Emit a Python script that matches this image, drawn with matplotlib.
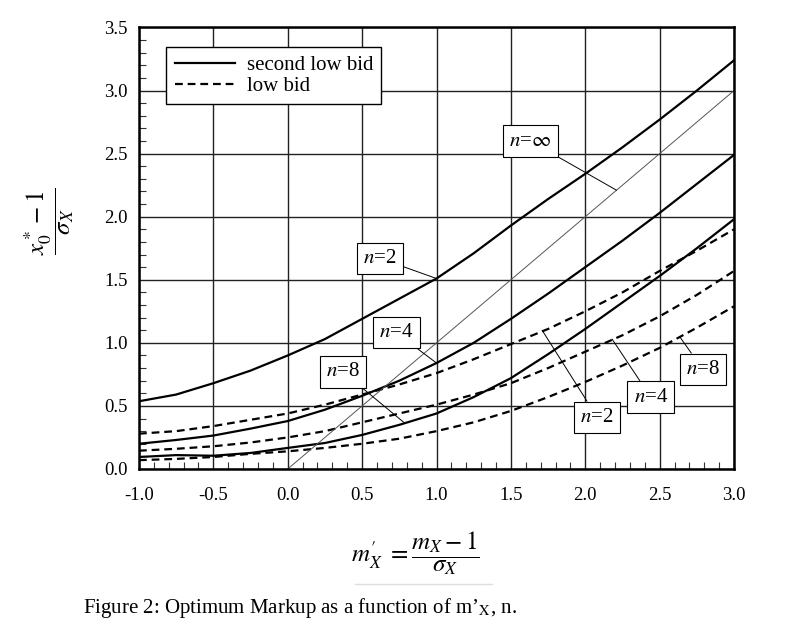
import numpy as np
import matplotlib
matplotlib.use("Agg")
import matplotlib.pyplot as plt
from matplotlib.lines import Line2D
from matplotlib.ticker import MultipleLocator, FormatStrFormatter

# valores (paso 0.25)
x_vals = [-1.0, -0.75, -0.5, -0.25, 0.0, 0.25, 0.5, 0.75, 1.0,
          1.25, 1.5, 1.75, 2.0, 2.25, 2.5, 2.75, 3.0]
second_n2 = [0.537, 0.59, 0.68, 0.78, 0.90, 1.03, 1.19, 1.35, 1.51,
             1.71, 1.93, 2.14, 2.34, 2.55, 2.77, 3.00, 3.24]
second_n4 = [0.20, 0.23, 0.265, 0.32, 0.38, 0.47, 0.58, 0.70, 0.84,
             1.00, 1.19, 1.39, 1.60, 1.81, 2.03, 2.26, 2.49]
second_n8 = [0.095, 0.11, 0.105, 0.127, 0.167, 0.206, 0.27, 0.35, 0.44,
             0.57, 0.72, 0.91, 1.11, 1.32, 1.53, 1.75, 1.98]
low_n2 = [0.28, 0.30, 0.34, 0.39, 0.44, 0.51, 0.59, 0.67, 0.76,
          0.87, 0.99, 1.11, 1.25, 1.40, 1.57, 1.73, 1.90]
low_n4 = [0.145, 0.16, 0.18, 0.21, 0.25, 0.30, 0.37, 0.44, 0.51,
          0.59, 0.68, 0.80, 0.93, 1.06, 1.21, 1.38, 1.57]
low_n8 = [0.07, 0.08, 0.095, 0.12, 0.14, 0.167, 0.20, 0.24, 0.30,
          0.37, 0.46, 0.57, 0.69, 0.82, 0.96, 1.12, 1.29]
diag_x = [0.0, 3.0]
diag_y = [0.0, 3.0]

# etiquetas: (texto, posicion del recuadro, punto señalado)
etiquetas = [
    (r'$n$=$\infty$', (1.63, 2.60), (2.21, 2.21)),
    (r'$n$=2', (0.62, 1.67), (1.00, 1.51)),
    (r'$n$=4', (0.73, 1.08), (1.00, 0.84)),
    (r'$n$=8', (0.37, 0.77), (0.79, 0.36)),
    (r'$n$=2', (2.08, 0.41), (1.71, 1.10)),
    (r'$n$=4', (2.44, 0.57), (2.18, 1.03)),
    (r'$n$=8', (2.79, 0.79), (2.64, 1.04)),
]

plt.rcParams['font.family'] = ['Liberation Serif', 'DejaVu Serif']
plt.rcParams['mathtext.fontset'] = 'stix'

fig = plt.figure(figsize=(7.87, 6.29), dpi=100)
ax = fig.add_axes([0.1766, 0.2544, 0.7561, 0.7019])

lw = 1.6
dash = (0, (3.5, 2.2))
ax.plot(x_vals, second_n2, color='black', lw=lw, label='second low bid')
ax.plot(x_vals, second_n4, color='black', lw=lw)
ax.plot(x_vals, second_n8, color='black', lw=lw)
ax.plot(x_vals, low_n2, color='black', lw=lw, ls=dash, label='low bid')
ax.plot(x_vals, low_n4, color='black', lw=lw, ls=dash)
ax.plot(x_vals, low_n8, color='black', lw=lw, ls=dash)
ax.plot(diag_x, diag_y, color='#555555', lw=0.7)

for texto, pos, punto in etiquetas:
    ax.annotate(texto, xy=punto, xytext=pos, ha='center', va='center',
                fontsize=15,
                bbox=dict(boxstyle='square,pad=0.3', fc='white', ec='black', lw=0.8),
                arrowprops=dict(arrowstyle='-', color='black', lw=0.7,
                                shrinkA=0, shrinkB=0))

ax.set_xlim(-1, 3)
ax.set_ylim(0, 3.5)
ax.xaxis.set_major_locator(MultipleLocator(0.5))
ax.yaxis.set_major_locator(MultipleLocator(0.5))
ax.xaxis.set_minor_locator(MultipleLocator(0.1))
ax.yaxis.set_minor_locator(MultipleLocator(0.1))
ax.xaxis.set_major_formatter(FormatStrFormatter('%.1f'))
ax.yaxis.set_major_formatter(FormatStrFormatter('%.1f'))
ax.tick_params(which='major', direction='in', length=0, labelsize=13.5, pad=8)
ax.tick_params(which='minor', direction='in', length=5, width=0.8, color='#333333')
ax.tick_params(axis='x', which='major', pad=13)
ax.grid(True, which='major', color='#222222', lw=1.0)
ax.set_axisbelow(True)
for s in ax.spines.values():
    s.set_linewidth(1.8)

leg = ax.legend(loc='upper left', bbox_to_anchor=(0.046, 0.955), fontsize=15,
                frameon=True, fancybox=False, edgecolor='black', framealpha=1,
                handlelength=2.9, borderpad=0.4, labelspacing=0.05, borderaxespad=0,
                handletextpad=0.55)
leg.get_frame().set_linewidth(1.0)

fig.text(0.062, 0.648, r'$\dfrac{x_0^* - 1}{\sigma_X}$', rotation=90,
         ha='center', va='center', fontsize=18)
fig.text(0.528, 0.121, r"$m_X^{\prime}\ =\dfrac{m_X - 1}{\sigma_X}$",
         ha='center', va='center', fontsize=18)
fig.add_artist(Line2D([0.451, 0.625], [0.072, 0.072], color='#dddddd', lw=1.0))
fig.text(0.105, 0.034, r"Figure 2: Optimum Markup as a function of m’$_\mathrm{X}$, n.",
         ha='left', va='center', fontsize=15)

fig.savefig('out.png', dpi=100, facecolor='white')
